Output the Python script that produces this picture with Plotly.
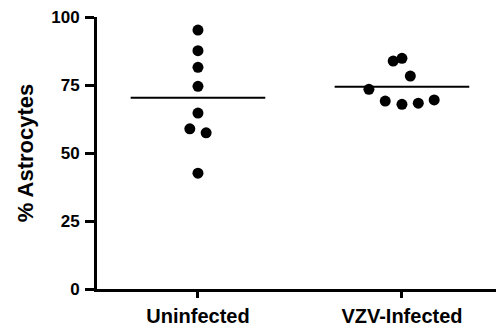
import plotly.graph_objects as go
import numpy as np

categories = ["Uninfected", "VZV-Infected"]
uninfected = [95.2, 87.6, 81.5, 74.5, 64.7, 58.9, 57.4, 42.6]
uninfected_jitter = [0, 0, 0, 0, 0, -0.04, 0.04, 0]
vzv = [83.8, 84.8, 78.3, 73.4, 69.1, 67.9, 68.3, 69.5]
vzv_jitter = [-0.043, 0, 0.041, -0.162, -0.082, 0, 0.08, 0.158]
y_ticks = [0, 25, 50, 75, 100]

series = [uninfected, vzv]
jitters = [uninfected_jitter, vzv_jitter]

FONT = "Liberation Sans"
fig = go.Figure()
for i, (vals, jit) in enumerate(zip(series, jitters)):
    fig.add_trace(go.Scatter(
        x=[i + j for j in jit], y=vals, mode="markers",
        marker=dict(size=11, color="black"), showlegend=False,
    ))
    m = float(np.mean(vals))
    fig.add_trace(go.Scatter(
        x=[i - 0.33, i + 0.33], y=[m, m], mode="lines",
        line=dict(color="black", width=2), showlegend=False,
    ))

fig.update_layout(
    width=496, height=327,
    margin=dict(l=97, r=0, t=17, b=35),
    plot_bgcolor="white", paper_bgcolor="white",
    font=dict(family=FONT, color="black"),
    xaxis=dict(
        range=[-0.495, 1.461], tickvals=[0, 1], ticktext=categories,
        showgrid=False, zeroline=False, showline=True, linecolor="black", linewidth=3,
        ticks="outside", ticklen=6, tickwidth=3, tickcolor="black",
        tickfont=dict(family=FONT, size=20, weight="bold"),
        ticklabelstandoff=1,
    ),
    yaxis=dict(
        range=[0, 100], tickvals=y_ticks,
        showgrid=False, zeroline=False, showline=True, linecolor="black", linewidth=3,
        ticks="outside", ticklen=9, tickwidth=3, tickcolor="black",
        tickfont=dict(family=FONT, size=17, weight="bold"),
        ticklabelstandoff=2,
        title=dict(text="% Astrocytes", font=dict(family=FONT, size=22, weight="bold"), standoff=12),
    ),
)
fig.write_html(
    "out.html",
    config={"displayModeBar": False},
    post_script="document.body.style.margin='0';document.body.style.overflow='hidden';",
)
